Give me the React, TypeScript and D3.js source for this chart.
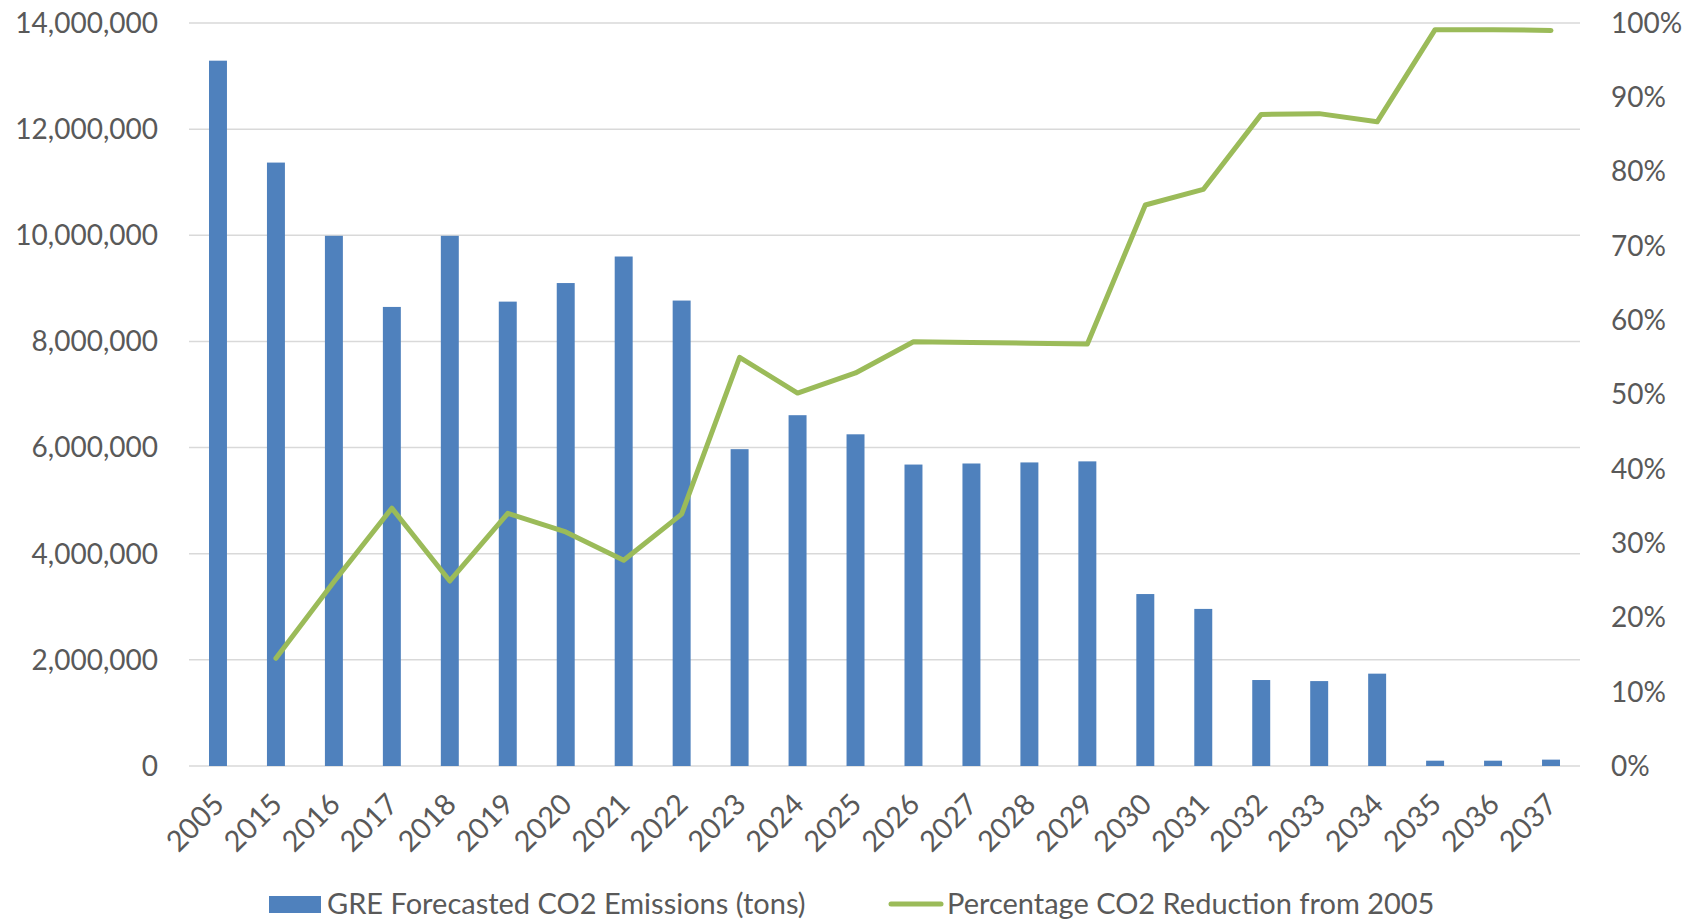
import React from "react";
import * as d3 from "d3";

const years = ["2005","2015","2016","2017","2018","2019","2020","2021","2022","2023","2024","2025","2026","2027","2028","2029","2030","2031","2032","2033","2034","2035","2036","2037"];
const emissions = [13290000,11370000,9990000,8650000,9990000,8750000,9100000,9600000,8770000,5970000,6610000,6250000,5680000,5700000,5720000,5740000,3240000,2960000,1620000,1600000,1740000,100000,100000,120000];
const reduction: (number | null)[] = [null,14.5,24.8,34.7,24.9,34.0,31.5,27.7,33.9,55.0,50.2,52.9,57.1,57.0,56.9,56.8,75.5,77.6,87.7,87.8,86.7,99.1,99.1,99.0];
const leftTicks = [0,2000000,4000000,6000000,8000000,10000000,12000000,14000000];
const rightTicks = [0,10,20,30,40,50,60,70,80,90,100];
const seriesNames = ["GRE Forecasted CO2 Emissions (tons)", "Percentage CO2 Reduction from 2005"];

const W = 1687, H = 921;
const M = { left: 189, right: 1580, top: 23, bottom: 766 };
const FONT = "Lato, 'Open Sans', sans-serif";
const TXT = "#595959";

export default function App() {
  const x = d3.scaleBand<string>().domain(years).range([M.left, M.right]).paddingInner(0.69).paddingOuter(0.345);
  const yL = d3.scaleLinear().domain([0, 14000000]).range([M.bottom, M.top]);
  const yR = d3.scaleLinear().domain([0, 100]).range([M.bottom, M.top]);
  const fmt = d3.format(",");
  const line = d3.line<[string, number | null]>()
    .defined(d => d[1] !== null)
    .x(d => (x(d[0]) as number) + x.bandwidth() / 2)
    .y(d => yR(d[1] as number));
  const pts: [string, number | null][] = years.map((y, i) => [y, reduction[i]]);

  return (
    <div style={{ position: "absolute", left: 0, top: 0 }}>
      <svg width={W} height={H} style={{ display: "block", background: "#fff" }}>
        {leftTicks.map(t => (
          <line key={"g" + t} x1={M.left} x2={M.right} y1={yL(t)} y2={yL(t)} stroke="#D9D9D9" strokeWidth={1.5} />
        ))}
        {leftTicks.map(t => (
          <text key={"l" + t} x={158} y={yL(t)} dy="0.35em" textAnchor="end" fill={TXT} fontFamily={FONT} fontSize={28}>{fmt(t)}</text>
        ))}
        {rightTicks.map(t => (
          <text key={"r" + t} x={1611} y={yR(t)} dy="0.35em" textAnchor="start" fill={TXT} fontFamily={FONT} fontSize={28}>{t + "%"}</text>
        ))}
        {years.map((yr, i) => (
          <rect key={"b" + yr} x={x(yr)} y={yL(emissions[i])} width={x.bandwidth()} height={M.bottom - yL(emissions[i])} fill="#4F81BD" />
        ))}
        <path d={line(pts) || ""} fill="none" stroke="#9BBB59" strokeWidth={5} strokeLinejoin="round" strokeLinecap="round" />
        {years.map(yr => {
          const cx = (x(yr) as number) + x.bandwidth() / 2 + 8;
          const cy = 806;
          return (
            <text key={"x" + yr} x={cx} y={cy} textAnchor="end" fill={TXT} fontFamily={FONT} fontSize={29} transform={`rotate(-45 ${cx} ${cy})`}>{yr}</text>
          );
        })}
        <rect x={269} y={896} width={52} height={17} fill="#4F81BD" />
        <text x={327} y={904} dy="0.35em" fill={TXT} fontFamily={FONT} fontSize={29}>{seriesNames[0]}</text>
        <line x1={891} x2={941} y1={904} y2={904} stroke="#9BBB59" strokeWidth={5} strokeLinecap="round" />
        <text x={947} y={904} dy="0.35em" fill={TXT} fontFamily={FONT} fontSize={29}>{seriesNames[1]}</text>
      </svg>
    </div>
  );
}
